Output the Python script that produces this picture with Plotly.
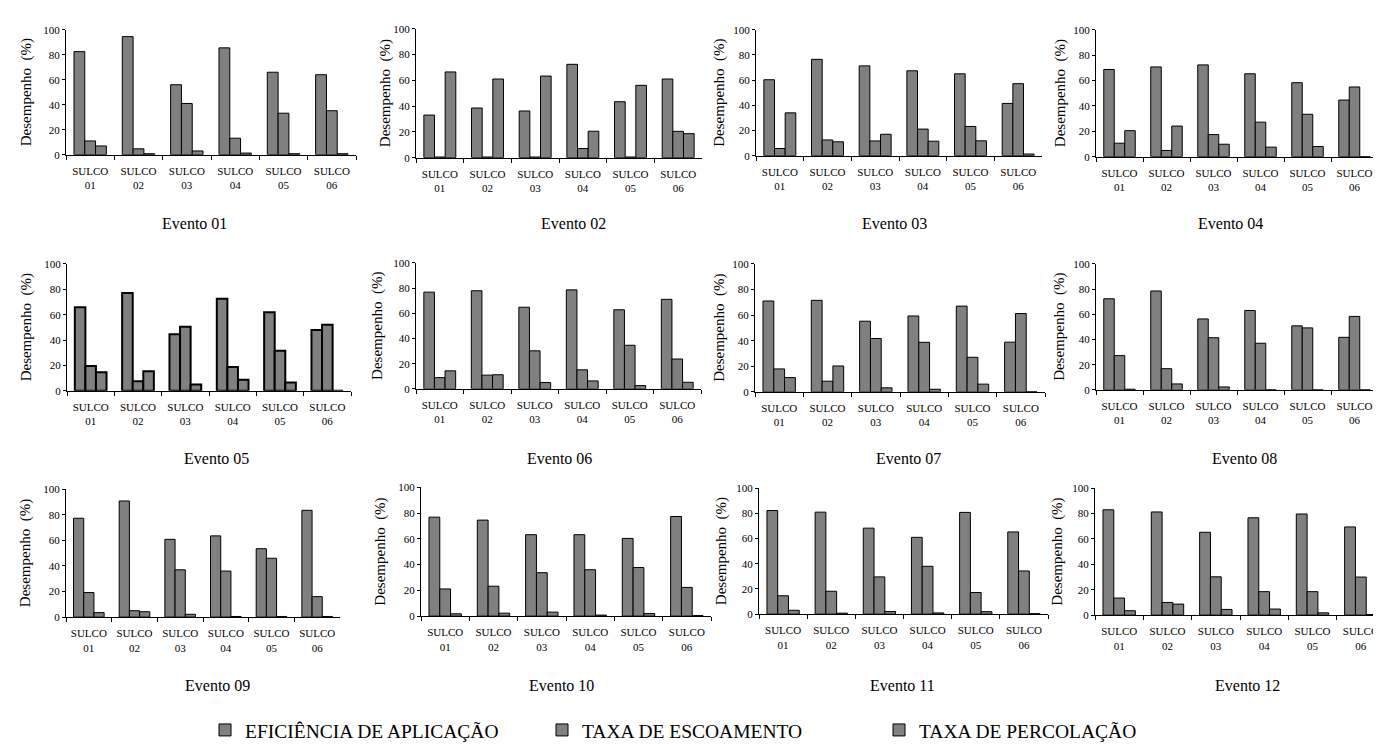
import plotly.graph_objects as go

# ---------------- data ----------------
sulcos = ["SULCO<br>01", "SULCO<br>02", "SULCO<br>03", "SULCO<br>04", "SULCO<br>05", "SULCO<br>06"]
eventos = ["Evento 01", "Evento 02", "Evento 03", "Evento 04",
           "Evento 05", "Evento 06", "Evento 07", "Evento 08",
           "Evento 09", "Evento 10", "Evento 11", "Evento 12"]
series_names = ["EFICIÊNCIA DE APLICAÇÃO", "TAXA DE ESCOAMENTO", "TAXA DE PERCOLAÇÃO"]

eficiencia = [
    [82.5, 94.5, 56.0, 85.5, 66.0, 64.0],
    [33.0, 38.5, 36.2, 72.4, 43.4, 61.0],
    [60.3, 76.5, 71.3, 67.4, 65.0, 41.5],
    [68.7, 70.7, 72.3, 65.3, 58.3, 44.6],
    [65.8, 77.0, 44.5, 72.5, 62.0, 48.0],
    [76.8, 77.9, 64.8, 78.6, 62.8, 71.1],
    [71.0, 71.5, 55.2, 59.3, 67.0, 38.8],
    [72.3, 78.5, 56.3, 63.0, 50.8, 41.7],
    [77.3, 90.8, 60.8, 63.5, 53.5, 83.5],
    [76.8, 74.5, 63.2, 63.2, 60.3, 77.3],
    [82.3, 81.0, 68.3, 61.0, 80.8, 65.3],
    [83.0, 81.3, 65.3, 76.7, 79.7, 69.5],
]
escoamento = [
    [11.0, 4.7, 41.0, 13.2, 33.2, 35.2],
    [0.5, 0.5, 0.5, 7.1, 0.5, 20.4],
    [5.7, 12.5, 11.7, 21.1, 23.2, 57.2],
    [10.6, 4.9, 17.4, 27.2, 33.4, 54.9],
    [19.6, 7.5, 50.5, 18.8, 31.5, 52.0],
    [8.9, 10.9, 30.2, 15.1, 34.6, 23.7],
    [17.9, 8.3, 41.7, 38.7, 27.0, 61.2],
    [27.2, 16.8, 41.4, 37.0, 49.2, 58.3],
    [19.2, 5.0, 37.0, 36.0, 46.0, 16.0],
    [21.1, 23.2, 33.7, 36.0, 37.7, 22.3],
    [14.6, 18.2, 29.6, 38.0, 17.2, 34.3],
    [13.5, 10.0, 30.2, 18.5, 18.5, 30.0],
]
percolacao = [
    [7.0, 0.8, 3.0, 1.3, 0.8, 0.8],
    [66.5, 61.0, 63.3, 20.5, 56.1, 18.6],
    [34.0, 11.0, 17.0, 11.5, 11.8, 1.3],
    [20.5, 24.1, 9.8, 7.5, 8.0, 0.0],
    [14.6, 15.5, 5.0, 8.7, 6.5, 0.0],
    [14.3, 11.2, 5.0, 6.3, 2.6, 5.2],
    [11.1, 20.2, 3.1, 2.0, 6.0, 0.0],
    [0.5, 4.7, 2.3, 0.0, 0.0, 0.0],
    [3.5, 4.2, 2.2, 0.5, 0.5, 0.5],
    [1.8, 2.3, 3.1, 0.8, 2.0, 0.4],
    [3.1, 0.8, 2.1, 1.0, 2.0, 0.4],
    [3.5, 8.7, 4.5, 4.8, 1.8, 0.5],
]
series_values = [eficiencia, escoamento, percolacao]

# ---------------- layout geometry (pixels) ----------------
W, H = 1381, 744
# (x_left, x_right, y_top, y_bottom) of each plot area
panels = [
    (58, 348, 16, 143), (408, 694, 15, 146), (748, 1034, 16, 144), (1088, 1370, 16, 145),
    (59, 343, 254, 383), (408, 693, 253, 381), (747, 1037, 254, 384), (1088, 1370, 254, 382),
    (58, 332, 483, 613), (413, 703, 481, 612), (751, 1040, 482, 610), (1087, 1377, 482, 611),
]
title_pos = [
    (186, 213), (565, 213), (886, 213), (1222, 213),
    (208, 452), (551, 452), (900, 452), (1236, 452),
    (209, 683), (553, 683), (894, 683), (1239, 683),
]
ytitle_x = [18, 377, 712, 1052, 18, 370, 712, 1052, 17, 373, 713, 1050]

FONT = "Liberation Serif, Times New Roman, serif"
GRAY = "#808080"

fig = go.Figure()
annotations = []
for i in range(12):
    ax = "" if i == 0 else str(i + 1)
    lw = 2 if i == 4 else 1
    for s in range(3):
        fig.add_trace(go.Bar(
            x=sulcos, y=series_values[s][i], name=series_names[s],
            xaxis="x" + ax, yaxis="y" + ax,
            marker=dict(color=GRAY, line=dict(color="black", width=lw)),
            showlegend=(i == 0), legendrank=s + 1,
        ))
    x0, x1, yt, yb = panels[i]
    fig.layout["xaxis" + ax] = dict(
        domain=[x0 / W, x1 / W], anchor="y" + ax, type="category",
        range=[-0.5, 5.5], showline=True, linecolor="black", linewidth=1,
        ticks="outside", tickson="boundaries", ticklen=4, tickcolor="black",
        showgrid=False, zeroline=False, fixedrange=True,
        tickfont=dict(family=FONT, size=11, color="black"), ticklabelstandoff=6,
    )
    fig.layout["yaxis" + ax] = dict(
        domain=[1 - yb / H, 1 - yt / H], anchor="x" + ax,
        range=[0, 100], tickvals=[0, 20, 40, 60, 80, 100],
        showline=True, linecolor="black", linewidth=1,
        ticks="outside", ticklen=3, tickcolor="black",
        showgrid=False, zeroline=False, fixedrange=True,
        tickfont=dict(family=FONT, size=11, color="black"),
    )
    tx, ty = title_pos[i]
    annotations.append(dict(
        text=eventos[i], x=tx / W, y=1 - ty / H, xref="paper", yref="paper",
        showarrow=False, xanchor="center", yanchor="middle",
        font=dict(family=FONT, size=16, color="black"),
    ))
    annotations.append(dict(
        text="Desempenho  (%)", x=ytitle_x[i] / W, y=1 - ((yt + yb) / 2) / H,
        xref="paper", yref="paper", showarrow=False, textangle=-90,
        xanchor="center", yanchor="middle",
        font=dict(family=FONT, size=15, color="black"),
    ))

fig.update_layout(
    width=W, height=H,
    margin=dict(l=0, r=0, t=0, b=0),
    paper_bgcolor="white", plot_bgcolor="white",
    barmode="group", bargap=0.33, bargroupgap=0,
    annotations=annotations,
    font=dict(family=FONT, color="black"),
    showlegend=True,
    legend=dict(
        orientation="h", x=197 / W, xanchor="left", y=1 - 728 / H, yanchor="middle",
        font=dict(family=FONT, size=19.5, color="black"),
        entrywidth=292, entrywidthmode="pixels", traceorder="normal",
        bgcolor="rgba(0,0,0,0)",
    ),
)

fig.write_html("out.html")
